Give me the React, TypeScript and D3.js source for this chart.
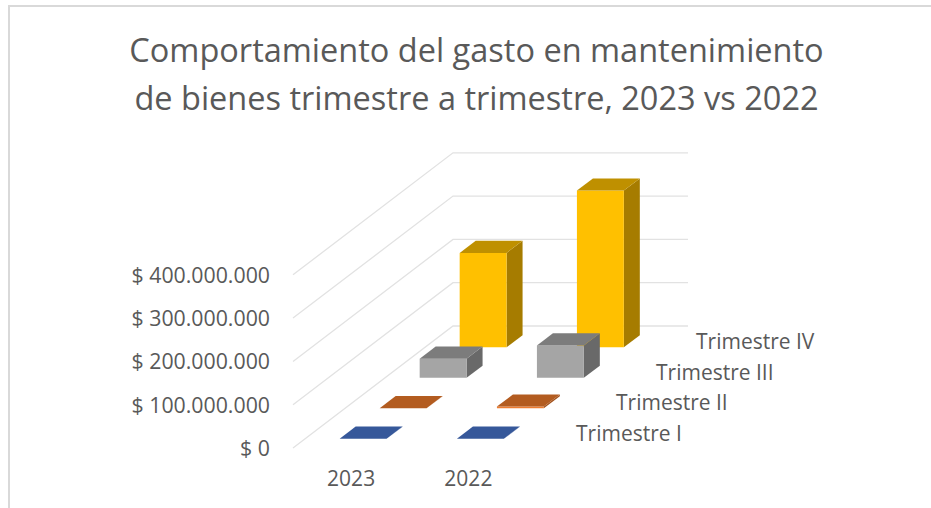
import * as d3 from "d3";

const W = 931;
const H = 508;

const years = ["2023", "2022"];
const quarters = ["Trimestre IV", "Trimestre III", "Trimestre II", "Trimestre I"];
const trimestreIV = [218000000, 362000000];
const trimestreIII = [44000000, 75000000];
const trimestreII = [300000, 4000000];
const trimestreI = [300000, 300000];
const valueTicks = [0, 100000000, 200000000, 300000000, 400000000];
const tickLabels = ["$ 0", "$ 100.000.000", "$ 200.000.000", "$ 300.000.000", "$ 400.000.000"];
const titleLines = ["Comportamiento del gasto en mantenimiento", "de bienes trimestre a trimestre, 2023 vs 2022"];

const seriesValues = [trimestreIV, trimestreIII, trimestreII, trimestreI];
const palette = [
  { front: "#ffc000", top: "#bf9000", side: "#a67c00" },
  { front: "#a5a5a5", top: "#7c7c7c", side: "#696969" },
  { front: "#ed7d31", top: "#b35c20", side: "#a2521c" },
  { front: "#4472c4", top: "#36589a", side: "#2f4d87" },
];

const font = "'Open Sans', sans-serif";
const textColor = "#595959";
const gridColor = "#e2e2e2";

// floor corner at the front left, then the depth direction of the 3d box
const originX = 293;
const originY = 448;
const depthX = 160;
const depthY = -122;
const floorWidth = 235;

const x = d3.scaleBand().domain(years).range([-0.5, floorWidth - 1]).paddingInner(0.6).paddingOuter(0.3);
// depth runs front (0) to back (1)
const z = d3.scaleBand().domain([...quarters].reverse()).range([0, 1]).paddingInner(0.6).paddingOuter(0.3);
const y = d3.scaleLinear().domain([0, 400000000]).range([0, 173.2]);

const project = (px: number, depth: number, value: number): [number, number] => [
  originX + px + depth * depthX,
  originY - y(value) + depth * depthY,
];

const path = (pts: [number, number][]) => d3.line()(pts) + "Z";

export default function App() {
  const bars: JSX.Element[] = [];
  quarters.forEach((q, s) => {
    const z0 = z(q)!;
    const z1 = z0 + z.bandwidth();
    years.forEach((yr, c) => {
      const x0 = x(yr)!;
      const x1 = x0 + x.bandwidth();
      const v = seriesValues[s][c];
      const col = palette[s];
      bars.push(
        <g key={q + yr}>
          <path d={path([project(x1, z0, 0), project(x1, z1, 0), project(x1, z1, v), project(x1, z0, v)])} fill={col.side} />
          <path d={path([project(x0, z0, 0), project(x1, z0, 0), project(x1, z0, v), project(x0, z0, v)])} fill={col.front} />
          <path d={path([project(x0, z0, v), project(x1, z0, v), project(x1, z1, v), project(x0, z1, v)])} fill={col.top} />
        </g>
      );
    });
  });

  return (
    <svg width={W} height={H} style={{ position: "absolute", left: 0, top: 0 }}>
      <rect width={W} height={H} fill="#fff" />
      <path d="M9,508V6H931" fill="none" stroke="#d9d9d9" strokeWidth={2} />
      {titleLines.map((t, i) => (
        <text key={t} x={476.5} y={62 + i * 48} textAnchor="middle" fontFamily={font} fontSize={32.5} fill={textColor}>
          {t}
        </text>
      ))}
      {valueTicks.map((t, i) => {
        const a = project(0, 0, t);
        const b = project(0, 1, t);
        const c = project(floorWidth, 1, t);
        return (
          <g key={t}>
            <path d={d3.line()([a, b, c])!} fill="none" stroke={gridColor} strokeWidth={1.3} />
            <text x={270} y={a[1] + 8} textAnchor="end" fontFamily={font} fontSize={21.3} fill={textColor}>
              {tickLabels[i]}
            </text>
          </g>
        );
      })}
      {bars}
      {years.map((yr) => {
        const [px] = project(x(yr)! + x.bandwidth() / 2, 0, 0);
        return (
          <text key={yr} x={px} y={486} textAnchor="middle" fontFamily={font} fontSize={21} fill={textColor}>
            {yr}
          </text>
        );
      })}
      {quarters.map((q) => {
        const [px, py] = project(floorWidth, z(q)! + z.bandwidth() / 2, 0);
        return (
          <text key={q} x={px + 28} y={py + 8} fontFamily={font} fontSize={21} fill={textColor}>
            {q}
          </text>
        );
      })}
    </svg>
  );
}
